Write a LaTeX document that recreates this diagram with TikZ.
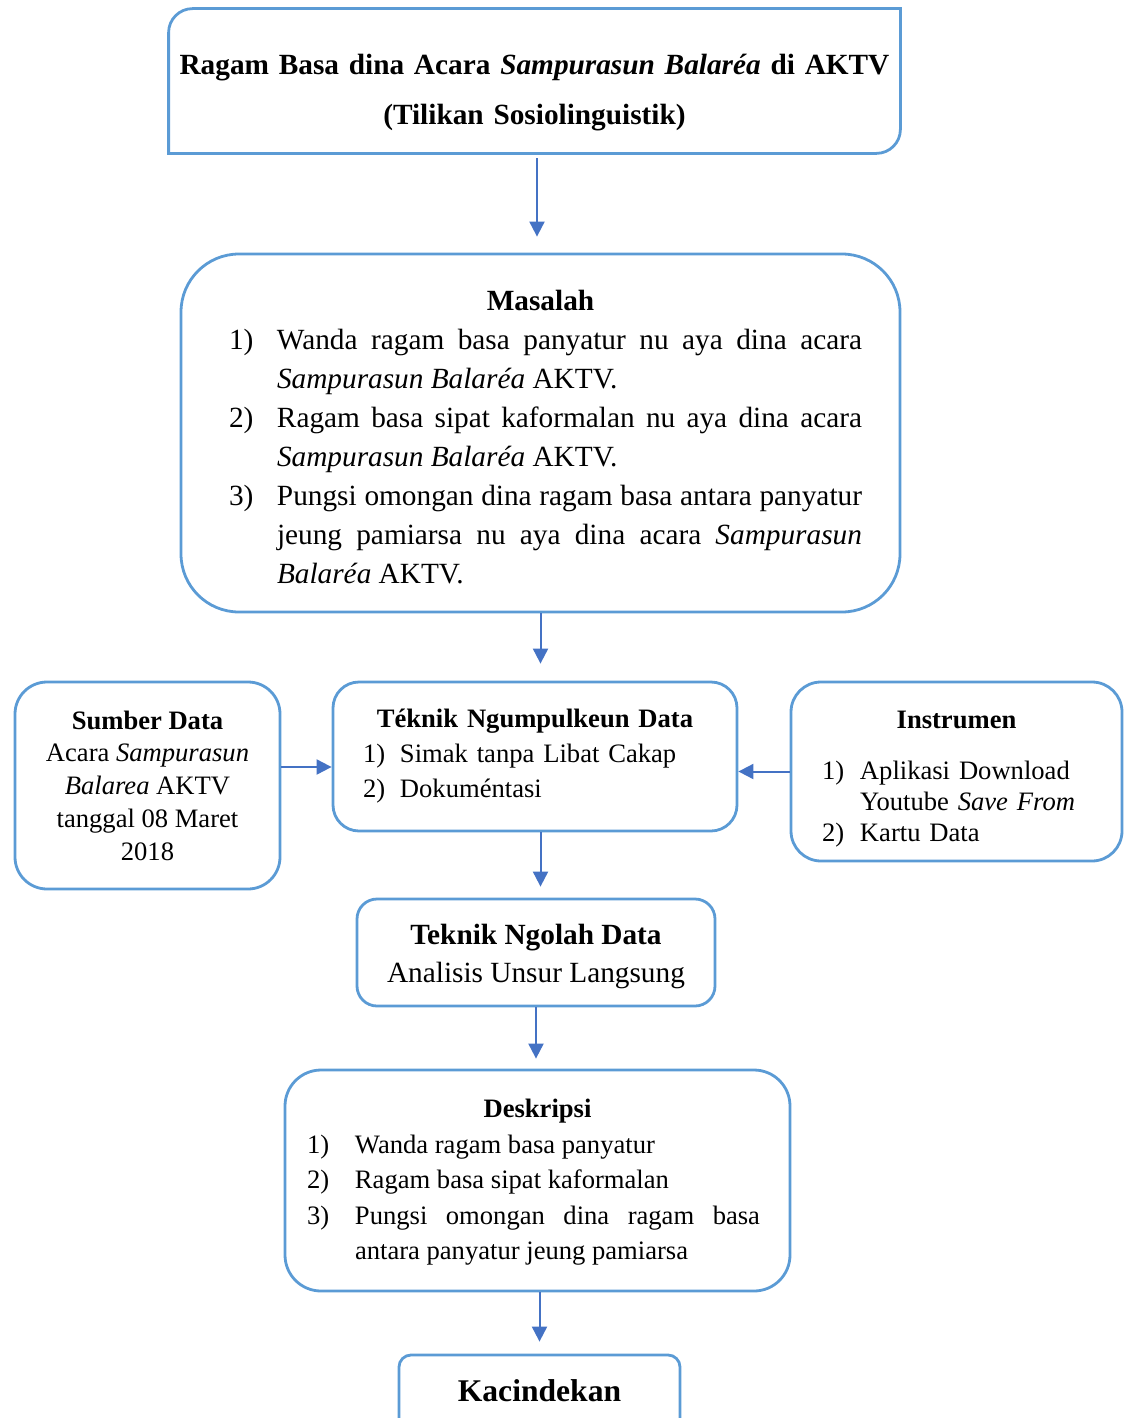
\documentclass[tikz,border=0pt]{standalone}
\usepackage{fontspec}
\setmainfont{Liberation Serif}
\usetikzlibrary{arrows.meta}
\definecolor{boxblue}{HTML}{5B9BD5}
\definecolor{arrblue}{HTML}{4472C4}
\newcommand{\numitem}[3]{\hangindent=#1\hangafter=1\noindent\makebox[#1][l]{#2}#3\par}

\begin{document}
\begin{tikzpicture}[x=0.5pt,y=-0.5pt,
box/.style={%
draw=boxblue,
line width=1.4pt,
fill=white,
inner sep=0pt,
},
arr/.style={%
draw=arrblue,
line width=1pt,
-{Triangle[width=7.5pt,length=7.5pt]},
},
small/.style={font=\fontsize{13.3pt}{#1}\selectfont},
big/.style={font=\fontsize{14.65pt}{#1}\selectfont},
]
\useasboundingbox(0,0)rectangle(1125,1418);
%% judul
\node[minimum width=365.5pt,minimum height=72pt,text width=360pt,align=center,inner sep=0pt,big=25pt]at(534.5,81)(title){\rule{0pt}{22pt}\textbf{Ragam Basa dina Acara \textit{Sampurasun Balaréa} di AKTV}\\\textbf{(Tilikan Sosiolinguistik)}};
\draw[draw=boxblue,line width=1.4pt](title.south west)--([yshift=-12pt]title.north west)arc[start angle=180,end angle=90,radius=12pt]--(title.north east)--([yshift=12pt]title.south east)arc[start angle=0,end angle=-90,radius=12pt]--cycle;
%% masalah
\node[box,rounded corners=29pt,minimum width=359.5pt,minimum height=179pt,text width=321.5pt,align=justify,big=19.5pt]at(540.5,433)(masalah){{\centering\rule{0pt}{14pt}\bfseries Masalah\par}\leftskip=5pt
\numitem{24pt}{1)}{Wanda ragam basa panyatur nu aya dina acara\linebreak\textit{Sampurasun Balaréa} AKTV.}%
\numitem{24pt}{2)}{Ragam basa sipat kaformalan nu aya dina acara\linebreak\textit{Sampurasun Balaréa} AKTV.}%
\numitem{24pt}{3)}{Pungsi omongan dina ragam basa antara panyatur\linebreak jeung pamiarsa nu aya dina acara \textit{Sampurasun}\linebreak\textit{Balaréa} AKTV.}};
%% baris tengah
\node[box,rounded corners=16pt,minimum width=132.5pt,minimum height=103.5pt,align=center,small=16.4pt]at(147.5,785.5)(sumber){\textbf{Sumber Data}\\Acara \textit{Sampurasun}\\\textit{Balarea} AKTV\\tanggal 08 Maret\\2018};
\node[box,rounded corners=13pt,minimum width=202pt,minimum height=74.5pt,text width=172pt,align=left,small=17.5pt]at(535,756.5)(tnd){{\centering\textbf{Téknik Ngumpulkeun Data}\par}%
\numitem{18.5pt}{1)}{Simak tanpa Libat Cakap}%
\numitem{18.5pt}{2)}{Dokuméntasi}};
\node[box,rounded corners=15pt,minimum width=165.5pt,minimum height=89.5pt,text width=134.5pt,align=left,small=15.5pt]at(956.5,771.5)(instr){{\centering\rule{0pt}{16pt}\textbf{Instrumen}\par}\vspace{10pt}%
\numitem{19pt}{1)}{Aplikasi Download\newline Youtube \textit{Save From}}%
\numitem{19pt}{2)}{Kartu Data}};
%% ngolah & deskripsi
\node[box,rounded corners=10pt,minimum width=179pt,minimum height=53.5pt,align=center,big=19pt]at(536,952.5)(ngolah){\rule{0pt}{14pt}\textbf{Teknik Ngolah Data}\\Analisis Unsur Langsung};
\node[box,rounded corners=18pt,minimum width=252.5pt,minimum height=110.5pt,text width=230.5pt,align=justify,small=17.7pt]at(537.5,1180.5)(deskripsi){{\centering\rule{0pt}{11pt}\bfseries Deskripsi\par}\rightskip=4pt
\numitem{24pt}{1)}{Wanda ragam basa panyatur}%
\numitem{24pt}{2)}{Ragam basa sipat kaformalan}%
\numitem{24pt}{3)}{Pungsi omongan dina ragam basa\linebreak antara panyatur jeung pamiarsa}};
\node[box,rounded corners=6pt,minimum width=140.5pt,text height=23pt,text depth=30pt,anchor=base,font=\fontsize{15.8pt}{19pt}\selectfont\bfseries]at(539.5,1401)(kacindekan){Kacindekan};
%% panah
\draw[arr,shorten <=2.5pt,shorten >=8pt]([xshift=1.25pt]title.south)--([xshift=1.25pt]title.south|-masalah.north);
\draw[arr,shorten >=8.5pt](masalah.south)--(masalah.south|-tnd.north);
\draw[arr]([yshift=9.25pt]sumber.east)--([yshift=9.25pt]sumber.east-|tnd.west);
\draw[arr](instr.west)--(instr.west-|tnd.east);
\draw[arr,shorten >=5.5pt](tnd.south-|masalah.south)--(masalah.south|-ngolah.north);
\draw[arr,shorten >=5pt](ngolah.south)--(ngolah.south|-deskripsi.north);
\draw[arr,shorten >=6pt](deskripsi.south-|kacindekan.north)--(kacindekan.north);
\end{tikzpicture}
\end{document}
